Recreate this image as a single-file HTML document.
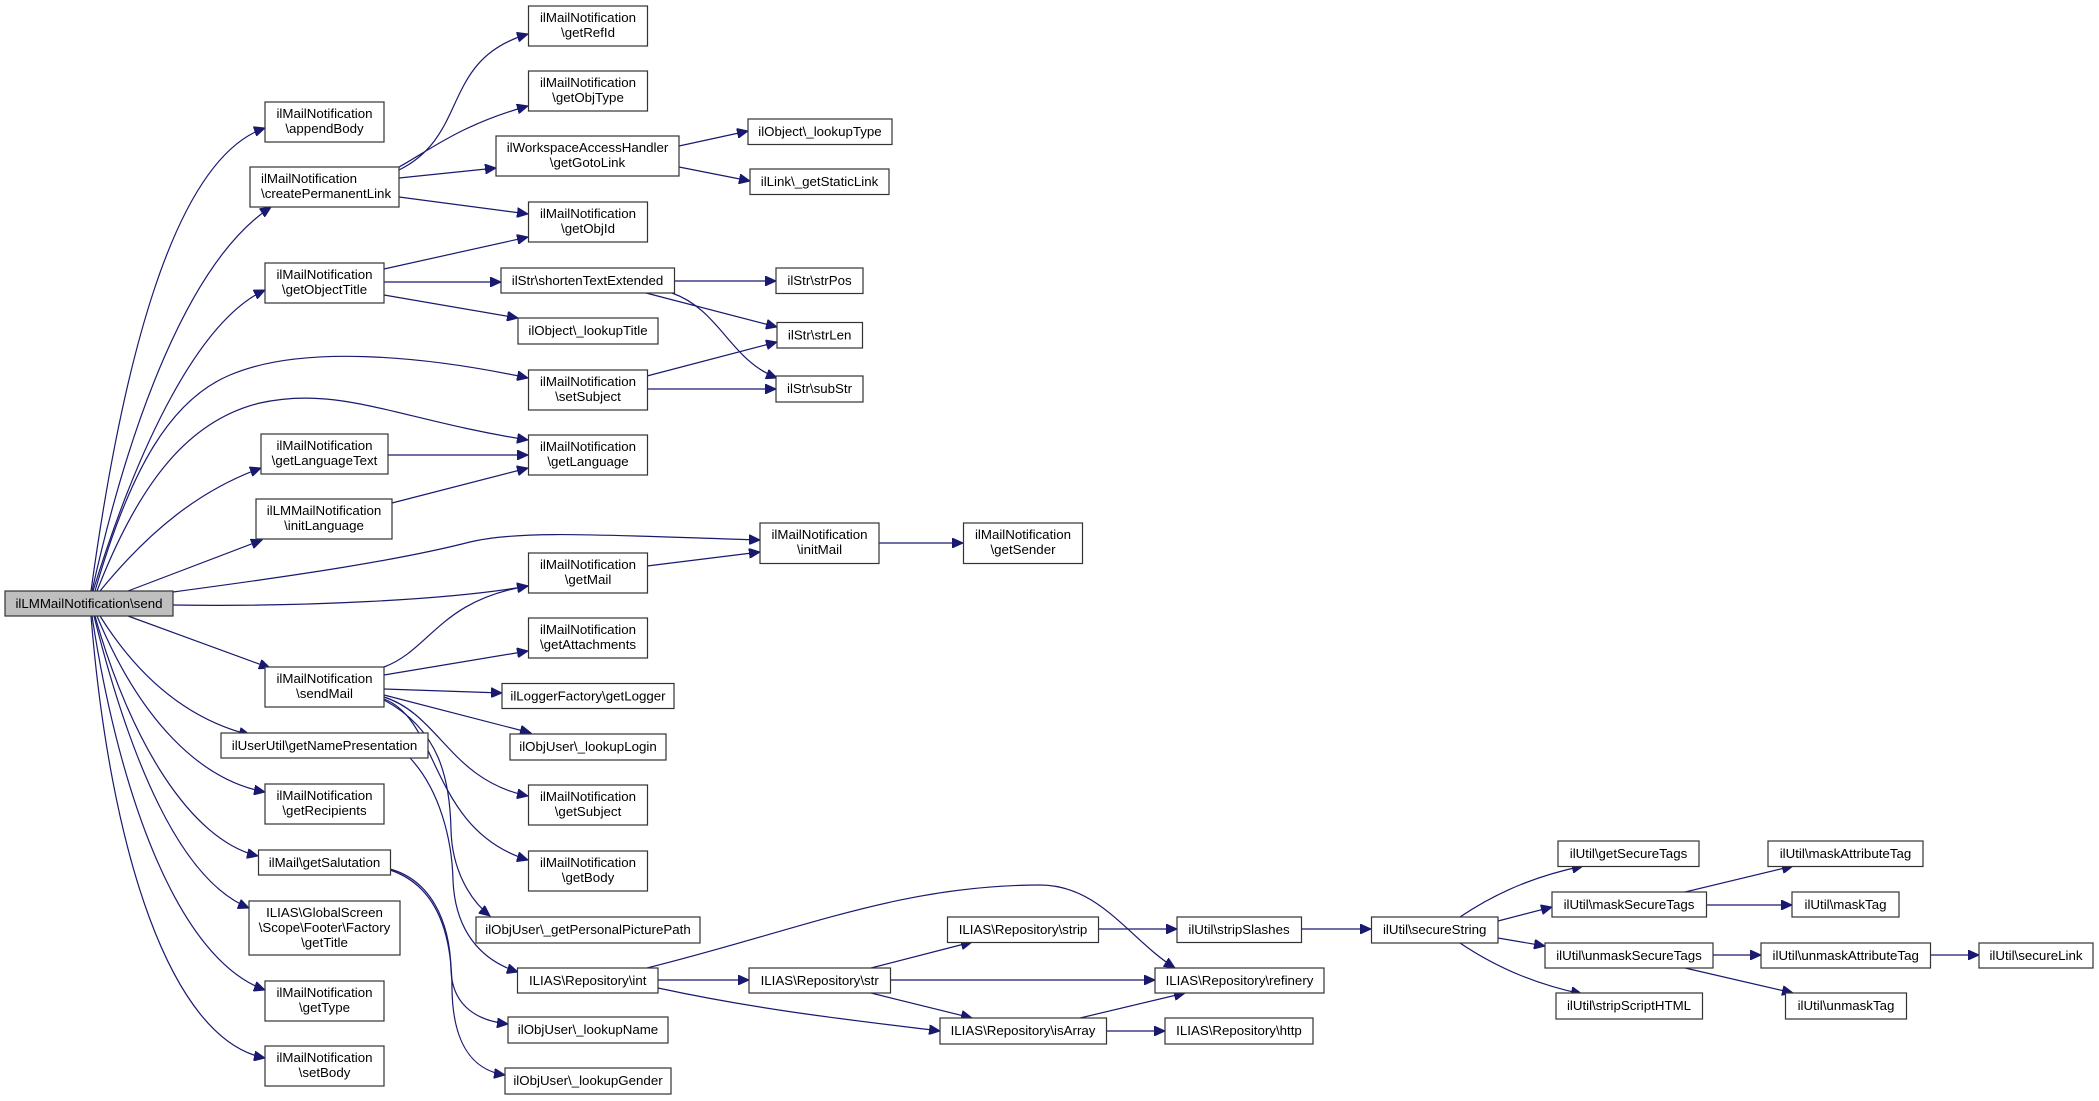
<!DOCTYPE html>
<html><head><meta charset="utf-8"><style>
html,body{margin:0;padding:0;background:#fff;}
svg{display:block;}
text{font-family:"Liberation Sans",sans-serif;font-size:13.3px;fill:#000;}
rect{fill:#fff;stroke:#333;stroke-width:1.2;}
path{fill:none;stroke:#191970;stroke-width:1.2;}
</style></head><body>
<svg width="2099" height="1101" viewBox="0 0 2099 1101" xmlns="http://www.w3.org/2000/svg">
<defs><marker id="a" markerWidth="12" markerHeight="10" refX="11" refY="5" orient="auto" markerUnits="userSpaceOnUse"><path d="M0,0 L11,5 L0,10 Z" style="fill:#191970;stroke:#191970;stroke-width:1"/></marker></defs>
<g marker-end="url(#a)">
<!-- from send -->
<path d="M91,591 C120,380 170,160 265,128"/>
<path d="M92,591 C130,420 190,260 271,207"/>
<path d="M93,591 C140,440 200,320 265,290"/>
<path d="M95,591 C130,470 170,400 230,375 C300,345 420,355 528,378"/>
<path d="M97,591 C140,480 190,420 260,403 C340,385 400,420 528,440"/>
<path d="M100,591 C150,530 200,490 261,468"/>
<path d="M128,591 L262,540"/>
<path d="M173,592 C300,575 400,560 470,542 C520,530 600,535 760,540"/>
<path d="M173,605 C300,607 450,600 528,586"/>
<path d="M128,616 L270,668"/>
<path d="M100,616 C140,680 190,720 250,735"/>
<path d="M97,616 C140,720 200,780 265,792"/>
<path d="M95,616 C130,740 190,840 258,856"/>
<path d="M94,616 C130,760 180,880 249,908"/>
<path d="M92,616 C120,800 180,960 265,990"/>
<path d="M91,616 C110,850 170,1040 265,1058"/>
<!-- createPermanentLink -->
<path d="M399,170 C470,135 440,60 528,34"/>
<path d="M399,167 C430,150 460,125 528,106"/>
<path d="M399,178 L496,168"/>
<path d="M399,197 L528,214"/>
<!-- getObjectTitle -->
<path d="M384,269 L528,237"/>
<path d="M384,282 L501,282"/>
<path d="M384,295 L518,318"/>
<!-- getGotoLink -->
<path d="M679,146 L748,131"/>
<path d="M679,167 L750,181"/>
<!-- shortenTextExtended -->
<path d="M674,281 L776,281"/>
<path d="M646,293 L777,327"/>
<path d="M672,293 C720,310 730,360 777,378"/>
<!-- setSubject -->
<path d="M647,376 L777,342"/>
<path d="M647,389 L776,389"/>
<path d="M388,455 L528,455"/>
<path d="M392,503 L528,468"/>
<path d="M647,566 L760,552"/>
<path d="M879,543 L963,543"/>
<!-- sendMail -->
<path d="M384,667 C430,650 440,600 528,586"/>
<path d="M384,675 L528,651"/>
<path d="M384,689 L502,693"/>
<path d="M384,695 L531,733"/>
<path d="M384,697 C440,715 450,780 528,796"/>
<path d="M384,699 C440,720 430,830 528,860"/>
<path d="M384,700 C440,730 450,780 451,830 C452,870 470,900 490,916"/>
<path d="M410,758 C440,790 452,840 453,880 C455,930 480,960 518,972"/>
<path d="M390,869 C430,880 450,920 451,970 C452,1000 470,1020 508,1024"/>
<path d="M390,870 C435,885 452,930 452,990 C453,1040 470,1070 505,1075"/>
<!-- int -->
<path d="M658,980 L749,980"/>
<path d="M658,988 C760,1010 850,1020 940,1031"/>
<path d="M647,968 C800,930 900,885 1040,885 C1100,885 1130,940 1175,968"/>
<path d="M871,968 L972,942"/>
<path d="M890,980 L1155,980"/>
<path d="M871,993 L972,1018"/>
<path d="M1098,929 L1177,929"/>
<path d="M1080,1018 L1185,993"/>
<path d="M1106,1031 L1165,1031"/>
<path d="M1301,929 L1371,929"/>
<path d="M1460,917 C1500,890 1540,875 1583,866"/>
<path d="M1498,921 L1552,907"/>
<path d="M1498,938 L1545,946"/>
<path d="M1460,943 C1500,970 1540,985 1582,994"/>
<path d="M1685,892 L1793,866"/>
<path d="M1706,905 L1792,905"/>
<path d="M1713,955 L1761,955"/>
<path d="M1685,968 L1793,993"/>
<path d="M1930,955 L1979,955"/>
</g>
<g>
<rect x="5" y="591" width="168" height="25" style="fill:#bfbfbf"/><text x="89" y="608" text-anchor="middle">ilLMMailNotification\send</text>
<rect x="265" y="102" width="119" height="40"/><text x="324.5" y="118" text-anchor="middle">ilMailNotification</text><text x="324.5" y="133" text-anchor="middle">\appendBody</text>
<rect x="250" y="167" width="149" height="40"/><text x="261" y="183">ilMailNotification</text><text x="261" y="198">\createPermanentLink</text>
<rect x="265" y="263" width="119" height="40"/><text x="324.5" y="279" text-anchor="middle">ilMailNotification</text><text x="324.5" y="294" text-anchor="middle">\getObjectTitle</text>
<rect x="261" y="434" width="127" height="40"/><text x="324.5" y="450" text-anchor="middle">ilMailNotification</text><text x="324.5" y="465" text-anchor="middle">\getLanguageText</text>
<rect x="256" y="499" width="136" height="40"/><text x="324" y="515" text-anchor="middle">ilLMMailNotification</text><text x="324" y="530" text-anchor="middle">\initLanguage</text>
<rect x="265" y="667" width="119" height="40"/><text x="324.5" y="683" text-anchor="middle">ilMailNotification</text><text x="324.5" y="698" text-anchor="middle">\sendMail</text>
<rect x="221" y="733" width="207" height="25"/><text x="324.5" y="750" text-anchor="middle">ilUserUtil\getNamePresentation</text>
<rect x="265" y="784" width="119" height="40"/><text x="324.5" y="800" text-anchor="middle">ilMailNotification</text><text x="324.5" y="815" text-anchor="middle">\getRecipients</text>
<rect x="258.5" y="850" width="132" height="25"/><text x="324.5" y="867" text-anchor="middle">ilMail\getSalutation</text>
<rect x="249" y="901" width="151" height="54"/><text x="324.5" y="917" text-anchor="middle">ILIAS\GlobalScreen</text><text x="324.5" y="932" text-anchor="middle">\Scope\Footer\Factory</text><text x="324.5" y="947" text-anchor="middle">\getTitle</text>
<rect x="265" y="981" width="119" height="40"/><text x="324.5" y="997" text-anchor="middle">ilMailNotification</text><text x="324.5" y="1012" text-anchor="middle">\getType</text>
<rect x="265" y="1046" width="119" height="40"/><text x="324.5" y="1062" text-anchor="middle">ilMailNotification</text><text x="324.5" y="1077" text-anchor="middle">\setBody</text>

<rect x="528.5" y="6" width="119" height="40"/><text x="588" y="22" text-anchor="middle">ilMailNotification</text><text x="588" y="37" text-anchor="middle">\getRefId</text>
<rect x="528.5" y="71" width="119" height="40"/><text x="588" y="87" text-anchor="middle">ilMailNotification</text><text x="588" y="102" text-anchor="middle">\getObjType</text>
<rect x="496" y="136" width="183" height="40"/><text x="587.5" y="152" text-anchor="middle">ilWorkspaceAccessHandler</text><text x="587.5" y="167" text-anchor="middle">\getGotoLink</text>
<rect x="528.5" y="202" width="119" height="40"/><text x="588" y="218" text-anchor="middle">ilMailNotification</text><text x="588" y="233" text-anchor="middle">\getObjId</text>
<rect x="501" y="268" width="173.5" height="25"/><text x="587.5" y="285" text-anchor="middle">ilStr\shortenTextExtended</text>
<rect x="518" y="318" width="140" height="26"/><text x="588" y="335" text-anchor="middle">ilObject\_lookupTitle</text>
<rect x="528.5" y="370" width="119" height="40"/><text x="588" y="386" text-anchor="middle">ilMailNotification</text><text x="588" y="401" text-anchor="middle">\setSubject</text>
<rect x="528.5" y="435" width="119" height="40"/><text x="588" y="451" text-anchor="middle">ilMailNotification</text><text x="588" y="466" text-anchor="middle">\getLanguage</text>
<rect x="528.5" y="553" width="119" height="40"/><text x="588" y="569" text-anchor="middle">ilMailNotification</text><text x="588" y="584" text-anchor="middle">\getMail</text>
<rect x="528.5" y="618" width="119" height="40"/><text x="588" y="634" text-anchor="middle">ilMailNotification</text><text x="588" y="649" text-anchor="middle">\getAttachments</text>
<rect x="502" y="683.5" width="172" height="25"/><text x="588" y="700.5" text-anchor="middle">ilLoggerFactory\getLogger</text>
<rect x="510" y="734" width="156" height="26"/><text x="588" y="751" text-anchor="middle">ilObjUser\_lookupLogin</text>
<rect x="528.5" y="785" width="119" height="40"/><text x="588" y="801" text-anchor="middle">ilMailNotification</text><text x="588" y="816" text-anchor="middle">\getSubject</text>
<rect x="528.5" y="851" width="119" height="40"/><text x="588" y="867" text-anchor="middle">ilMailNotification</text><text x="588" y="882" text-anchor="middle">\getBody</text>
<rect x="476" y="917" width="224" height="26"/><text x="588" y="934" text-anchor="middle">ilObjUser\_getPersonalPicturePath</text>
<rect x="517.5" y="968" width="140.5" height="25"/><text x="587.7" y="985" text-anchor="middle">ILIAS\Repository\int</text>
<rect x="508" y="1017" width="160" height="26"/><text x="588" y="1034" text-anchor="middle">ilObjUser\_lookupName</text>
<rect x="505" y="1068" width="166" height="26"/><text x="588" y="1085" text-anchor="middle">ilObjUser\_lookupGender</text>

<rect x="748" y="119" width="144" height="25.5"/><text x="820" y="136" text-anchor="middle">ilObject\_lookupType</text>
<rect x="750" y="169" width="139" height="25.5"/><text x="819.5" y="186" text-anchor="middle">ilLink\_getStaticLink</text>
<rect x="776" y="268" width="87" height="25.5"/><text x="819.5" y="285" text-anchor="middle">ilStr\strPos</text>
<rect x="777" y="322.5" width="85.5" height="25.5"/><text x="819.7" y="339.5" text-anchor="middle">ilStr\strLen</text>
<rect x="776" y="376" width="87" height="26"/><text x="819.5" y="393" text-anchor="middle">ilStr\subStr</text>
<rect x="760" y="523" width="119" height="40.5"/><text x="819.5" y="539" text-anchor="middle">ilMailNotification</text><text x="819.5" y="554" text-anchor="middle">\initMail</text>
<rect x="963.5" y="523" width="119" height="40.5"/><text x="1023" y="539" text-anchor="middle">ilMailNotification</text><text x="1023" y="554" text-anchor="middle">\getSender</text>
<rect x="749" y="968" width="141.5" height="25"/><text x="819.7" y="985" text-anchor="middle">ILIAS\Repository\str</text>
<rect x="947.5" y="917" width="151" height="25.5"/><text x="1023" y="934" text-anchor="middle">ILIAS\Repository\strip</text>
<rect x="940" y="1018" width="166.5" height="26"/><text x="1023" y="1035" text-anchor="middle">ILIAS\Repository\isArray</text>
<rect x="1177" y="917" width="124.5" height="25.5"/><text x="1239" y="934" text-anchor="middle">ilUtil\stripSlashes</text>
<rect x="1155" y="968" width="169" height="25"/><text x="1239.5" y="985" text-anchor="middle">ILIAS\Repository\refinery</text>
<rect x="1165" y="1018" width="148" height="26"/><text x="1239" y="1035" text-anchor="middle">ILIAS\Repository\http</text>
<rect x="1371.5" y="917" width="126.5" height="26"/><text x="1434.7" y="934" text-anchor="middle">ilUtil\secureString</text>
<rect x="1558" y="841" width="141" height="25.5"/><text x="1628.5" y="858" text-anchor="middle">ilUtil\getSecureTags</text>
<rect x="1552" y="892" width="154.5" height="25"/><text x="1629" y="909" text-anchor="middle">ilUtil\maskSecureTags</text>
<rect x="1545" y="943" width="168" height="25"/><text x="1629" y="960" text-anchor="middle">ilUtil\unmaskSecureTags</text>
<rect x="1556" y="993" width="146.5" height="26"/><text x="1629" y="1010" text-anchor="middle">ilUtil\stripScriptHTML</text>
<rect x="1768" y="841" width="155" height="25.5"/><text x="1845.5" y="858" text-anchor="middle">ilUtil\maskAttributeTag</text>
<rect x="1792" y="892" width="107" height="25"/><text x="1845.5" y="909" text-anchor="middle">ilUtil\maskTag</text>
<rect x="1761" y="943" width="169.5" height="25"/><text x="1845.7" y="960" text-anchor="middle">ilUtil\unmaskAttributeTag</text>
<rect x="1785.5" y="993" width="121" height="26"/><text x="1846" y="1010" text-anchor="middle">ilUtil\unmaskTag</text>
<rect x="1979" y="943" width="114" height="25"/><text x="2036" y="960" text-anchor="middle">ilUtil\secureLink</text>
</g>
</svg>
</body></html>
